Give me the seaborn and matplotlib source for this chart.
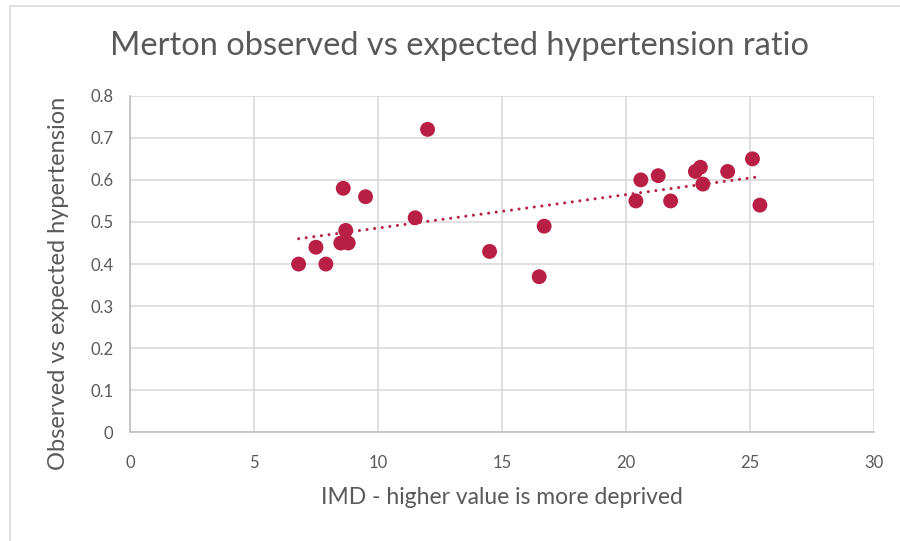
import numpy as np
import pandas as pd
import matplotlib
matplotlib.use("Agg")
import matplotlib.pyplot as plt
import seaborn as sns
from matplotlib.lines import Line2D

################################################
#     Values
################################################
imd = [6.8, 7.5, 7.9, 8.6, 8.5, 8.7, 8.8, 9.5, 11.5, 12.0,
       14.5, 16.5, 16.7, 20.4, 20.6, 21.3, 21.8, 22.8, 23.0, 23.1,
       24.1, 25.1, 25.4]
ratio = [0.40, 0.44, 0.40, 0.58, 0.45, 0.48, 0.45, 0.56, 0.51, 0.72,
         0.43, 0.37, 0.49, 0.55, 0.60, 0.61, 0.55, 0.62, 0.63, 0.59,
         0.62, 0.65, 0.54]
x_ticks = [0, 5, 10, 15, 20, 25, 30]
y_ticks = [0, 0.1, 0.2, 0.3, 0.4, 0.5, 0.6, 0.7, 0.8]
y_tick_labels = ["0", "0.1", "0.2", "0.3", "0.4", "0.5", "0.6", "0.7", "0.8"]

df = pd.DataFrame({"imd": imd, "ratio": ratio})

################################################
#                 Styling
################################################
sns.set_theme(style="white")
plt.rcParams["font.family"] = ["Lato", "DejaVu Sans"]
text_col = "#595959"
grid_col = "#D9D9D9"
dot_col = "#B91F44"

fig = plt.figure(figsize=(9, 5.41), dpi=100)
ax = fig.add_axes([0.1444, 0.2007, 0.8267, 0.6224])

# chart border (only left & top visible in the crop)
fig.add_artist(Line2D([0.011, 0.011], [0, 0.989], transform=fig.transFigure, color=grid_col, lw=1.2))
fig.add_artist(Line2D([0.011, 1], [0.989, 0.989], transform=fig.transFigure, color=grid_col, lw=1.2))

sns.scatterplot(data=df, x="imd", y="ratio", ax=ax, color=dot_col, s=115,
                edgecolor="none", zorder=3)
sns.regplot(data=df, x="imd", y="ratio", ax=ax, scatter=False, ci=None,
            color=dot_col, truncate=True,
            line_kws=dict(linestyle=(0, (0.01, 2.5)), lw=2.2,
                          dash_capstyle="round", zorder=4))

ax.set_xlim(0, 30)
ax.set_ylim(0, 0.8)
ax.set_xticks(x_ticks)
ax.set_yticks(y_ticks)
ax.set_yticklabels(y_tick_labels)
ax.grid(True, color=grid_col, lw=1.2)
ax.set_axisbelow(True)
for side in ["top", "right"]:
    ax.spines[side].set_visible(False)
for side in ["left", "bottom"]:
    ax.spines[side].set_color("#BFBFBF")
    ax.spines[side].set_linewidth(1.2)
ax.tick_params(axis="both", colors=text_col, labelsize=12, length=0)
ax.tick_params(axis="x", pad=16)
ax.tick_params(axis="y", pad=12)

ax.set_xlabel("IMD - higher value is more deprived", fontsize=16.5, color=text_col, labelpad=12)
ax.set_ylabel("Observed vs expected hypertension", fontsize=17, color=text_col, labelpad=15)
# the y title sits a little below the plot centre in the original
ax.yaxis.label.set_y(0.442)
fig.text(0.511, 0.915, "Merton observed vs expected hypertension ratio",
         ha="center", va="center", fontsize=23.5, color=text_col)

fig.savefig("out.png", dpi=100)
